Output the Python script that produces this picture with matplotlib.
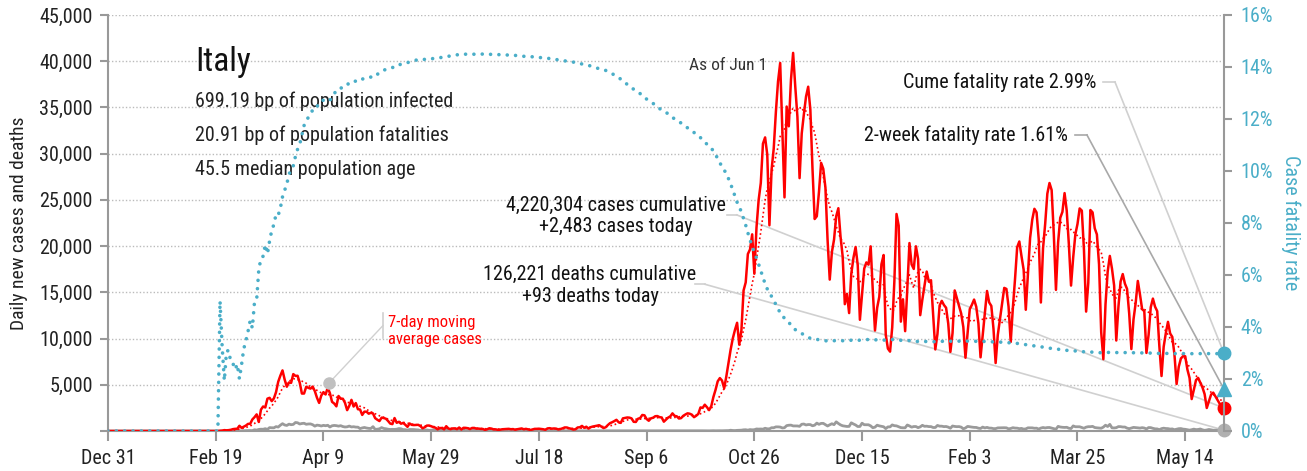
import numpy as np
import pandas as pd
import matplotlib
matplotlib.use("Agg")
import matplotlib.pyplot as plt
import matplotlib.dates as mdates
from matplotlib.ticker import FuncFormatter

plt.rcParams['font.family'] = ['Roboto Condensed', 'DejaVu Sans']

# daily new cases, starting Dec 31 2019
cases_2020 = [
    0,  # Dec 31
    0, 0, 0, 0, 0, 0, 0, 0, 0, 0, 0, 0, 0, 0, 0, 0, 0, 0, 0, 0, 0, 0, 0, 0, 0, 0, 0, 0, 0, 0, 2,  # Jan
    0, 0, 0, 0, 0, 0, 1, 0, 0, 0, 0, 0, 0, 0, 0, 0, 0, 0, 0, 0,
    17, 42, 93, 74, 93, 131, 202, 233, 240,  # Feb
    566, 342, 466, 587, 769, 778, 1247, 1492, 1797, 977, 2313, 2651, 2547, 3497, 3590, 3233,
    3526, 4207, 5322, 5986, 6557, 5560, 4789, 5249, 5210, 6153, 5959, 5974, 5217, 4050, 4053,  # Mar
    4782, 4668, 4585, 4805, 4316, 3599, 3039, 3836, 4204, 3951, 4694, 4092, 3153, 2972, 2667,
    3786, 3493, 3491, 3047, 2256, 2729, 3370, 2646, 3021, 2357, 2324, 1739, 2091, 2086, 1872,  # Apr
    1965, 1900, 1389, 1221, 1075, 1444, 1401, 1327, 1083, 802, 744, 1402, 888, 992, 789, 875,
    675, 451, 813, 665, 642, 652, 669, 531, 300, 397, 584, 593, 516, 416, 355,  # May
    178, 318, 321, 177, 518, 270, 197, 280, 283, 202, 379, 163, 346, 338, 301,
    210, 329, 333, 251, 262, 224, 218, 122, 190, 296, 259, 175, 174, 126, 142,  # Jun
    187, 201, 223, 235, 192, 208, 138, 193, 229, 276, 188, 234, 169, 114, 162, 230,
    233, 249, 219, 190, 129, 280, 306, 252, 275, 255, 170, 212, 289, 386, 379,  # Jul
    295, 239, 159, 190, 384, 402, 552, 347, 463, 259, 412, 481, 523, 574, 629, 479,
    320, 403, 642, 845, 947, 1071, 1210, 953, 878, 1367, 1411, 1462, 1444, 1365, 996,  # Aug
    978, 1326, 1397, 1733, 1695, 1297, 1108, 1370, 1434, 1597, 1616, 1501, 1458, 1008, 1229,
    1452, 1585, 1907, 1638, 1587, 1350, 1392, 1640, 1786, 1912, 1869, 1766, 1494, 1648, 1851,  # Sep
    2548, 2499, 2844, 2578, 2257, 2677, 3678, 4458, 5372, 5724, 5456, 4619, 5901, 7332, 8804, 10010,
    10925, 11705, 9338, 10874, 15199, 16079, 19143, 19644, 21273, 17012, 21994, 24991, 26831, 31084, 31758,  # Oct
    29907, 22253, 28244, 30550, 34505, 37809, 39811, 32616, 25271, 35098, 32961, 37978, 40902, 37255, 33979,
    27354, 32191, 34283, 36176, 37242, 34767, 28337, 22930, 23232, 25853, 29003, 28352, 26323, 20648, 16377,  # Nov
    19350, 20709, 23225, 24099, 21052, 18887, 13720, 14842, 12756, 16999, 18727, 19903, 17938, 12030, 14844, 17572,
    18236, 17992, 19974, 15104, 10872, 13318, 14522, 18040, 19037, 10407, 8913, 8585, 11212, 16202, 23477,  # Dec
]
cases_2021 = [
    22211, 11831, 14245, 10800, 15378, 20331, 18020, 17533, 19978, 18627, 12532, 14242, 15774, 17246, 16146, 16310,
    12545, 8824, 10497, 13571, 14078, 13633, 13331, 11629, 8561, 10593, 15204, 14372, 13574, 12715, 11252,  # Jan
    7925, 10630, 13189, 13659, 14218, 13442, 11641, 7970, 10404, 12956, 15146, 13908, 13532, 11068,
    7351, 10386, 12074, 13762, 15479, 15370, 13452, 9630, 13314, 16424, 19886, 20499, 18916, 17455,  # Feb
    13114, 17083, 20884, 22865, 24036, 23641, 20765, 13902, 19749, 22409, 25673, 26824, 26062, 21315, 15267, 20396,
    23059, 23704, 25735, 23832, 20159, 15732, 18765, 21267, 22393, 24076, 23839, 19611, 12916, 16017, 23904,  # Mar
    23649, 21932, 21261, 18025, 10680, 7767, 13708, 17221, 18938, 17567, 15746, 9789, 13447, 16168, 16974,
    15943, 15370, 12694, 8864, 12074, 13844, 16232, 14761, 13176, 12965, 8444, 10404, 13385, 14320, 13446,  # Apr
    12965, 9148, 5948, 9116, 10585, 11807, 10554, 10176, 8292, 5080, 6946, 7852, 8085, 8085, 6659, 5753,
    3455, 4452, 5506, 5741, 5218, 4717, 3995, 2490, 3224, 3937, 4147, 3738, 3351, 2949, 1820,  # May
    2483,  # Jun 1
]

# daily deaths, same dates
deaths_2020 = [
    0,  # Dec 31
    0, 0, 0, 0, 0, 0, 0, 0, 0, 0, 0, 0, 0, 0, 0, 0, 0, 0, 0, 0, 0, 0, 0, 0, 0, 0, 0, 0, 0, 0, 0,  # Jan
    0, 0, 0, 0, 0, 0, 0, 0, 0, 0, 0, 0, 0, 0, 0, 0, 0, 0, 0, 0,
    1, 1, 1, 4, 3, 2, 5, 4, 8,  # Feb
    5, 18, 27, 28, 41, 49, 36, 133, 97, 168, 196, 189, 250, 175, 368, 349,
    345, 475, 427, 627, 793, 651, 601, 743, 683, 712, 919, 889, 756, 812, 837,  # Mar
    727, 760, 766, 681, 525, 636, 604, 542, 610, 570, 619, 431, 566, 602, 578,
    525, 575, 482, 433, 454, 534, 437, 464, 420, 415, 260, 333, 382, 323, 285,  # Apr
    269, 474, 174, 195, 236, 369, 274, 243, 194, 165, 179, 172, 195, 262, 242, 153,
    145, 99, 162, 161, 156, 130, 119, 50, 92, 78, 117, 70, 87, 111, 75,  # May
    60, 55, 71, 88, 85, 72, 53, 65, 79, 71, 53, 56, 78, 44, 26,
    34, 43, 66, 47, 49, 24, 23, 18, 30, 30, 30, 8, 22, 6, 23,  # Jun
    21, 30, 15, 21, 7, 8, 30, 15, 12, 12, 7, 9, 13, 17, 13, 20,
    11, 13, 9, 3, 13, 15, 9, 10, 5, 4, 5, 11, 11, 9, 3,  # Jul
    12, 5, 8, 6, 10, 10, 3, 13, 3, 4, 6, 10, 6, 3, 4, 4,
    7, 5, 7, 6, 9, 3, 7, 4, 4, 13, 5, 9, 1, 4, 6,  # Aug
    6, 6, 10, 11, 7, 14, 10, 10, 10, 10, 10, 9, 7, 14, 9,
    10, 13, 10, 24, 15, 14, 20, 17, 20, 20, 17, 15, 17, 24, 19,  # Sep
    23, 24, 27, 18, 16, 28, 31, 22, 28, 29, 26, 39, 41, 43, 83, 55,
    47, 69, 73, 89, 127, 136, 91, 151, 128, 141, 221, 205, 217, 199, 297,  # Oct
    236, 233, 353, 352, 445, 446, 425, 331, 356, 580, 623, 636, 550, 544, 546,
    504, 731, 753, 653, 699, 692, 562, 630, 853, 722, 822, 827, 686, 541, 672,  # Nov
    785, 684, 993, 814, 662, 564, 528, 491, 499, 887, 761, 649, 484, 491, 846, 680,
    683, 674, 553, 352, 415, 628, 553, 505, 459, 261, 445, 445, 659, 575, 555,  # Dec
]
deaths_2021 = [
    462, 364, 347, 348, 649, 548, 414, 483, 483, 361, 448, 616, 507, 522, 477, 475,
    377, 377, 603, 524, 521, 472, 488, 420, 299, 541, 492, 467, 477, 421, 237,  # Jan
    329, 499, 456, 421, 391, 385, 307, 274, 422, 336, 391, 316, 311, 258,
    258, 336, 347, 347, 353, 343, 232, 274, 356, 318, 308, 253, 280, 205,  # Feb
    229, 343, 347, 339, 297, 307, 207, 318, 376, 332, 373, 380, 317, 264, 190, 502,
    431, 401, 386, 401, 300, 264, 551, 460, 460, 457, 380, 297, 417, 467, 467,  # Mar
    501, 376, 344, 326, 300, 421, 627, 487, 718, 344, 331, 360, 476, 469, 429,
    429, 310, 251, 316, 390, 360, 342, 315, 360, 322, 217, 373, 364, 288, 234,  # Apr
    226, 144, 256, 305, 267, 258, 207, 224, 139, 198, 251, 262, 201, 182, 136, 93,
    140, 201, 149, 164, 218, 126, 72, 110, 166, 121, 86, 93, 83, 44, 67,  # May
    93,  # Jun 1
]

stats_lines = ["699.19 bp of population infected",
               "20.91 bp of population fatalities",
               "45.5 median population age"]
total_cases = 4220304
total_deaths = 126221
cume_rate = 2.99
two_week_rate = 1.61

RED = "#ff0000"
BLUE = "#4aaec8"
GRAY = "#9a9a9a"

cases = np.array(cases_2020 + cases_2021, dtype=float)
deaths = np.array(deaths_2020 + deaths_2021, dtype=float)
dates = pd.date_range("2019-12-31", periods=len(cases), freq="D")
ma7 = pd.Series(cases).rolling(7, min_periods=1).mean().values
cum_c = np.cumsum(cases)
cum_d = np.cumsum(deaths)
cfr = np.where(cum_c > 0, cum_d / np.maximum(cum_c, 1) * 100, 0)

fig = plt.figure(figsize=(13.07, 4.71), dpi=100)
ax = fig.add_axes([108 / 1307, 1 - 431 / 471, (1224 - 108) / 1307, 416 / 471])
ax2 = ax.twinx()

ax.set_xlim(dates[0], dates[-1])
ax.set_ylim(0, 45000)
ax2.set_ylim(0, 16)

for y in range(5000, 45001, 5000):
    ax.axhline(y, color="#bbbbbb", lw=1, ls=(0, (1, 1.5)), zorder=0)

def day(n):
    return dates[0] + pd.Timedelta(days=n)

# annotation connectors
lc1 = "#d0d0d0"
lc2 = "#a8a8a8"
ax.plot([day(461.8), day(467.4)], [37750, 37750], color=lc1, lw=1.2)
ax.plot([day(467.4), dates[-1]], [37750, cume_rate / 16 * 45000], color=lc1, lw=1.2)
ax.plot([day(448.8), day(454.4)], [32020, 32020], color=lc2, lw=1.2)
ax.plot([day(454.4), dates[-1]], [32020, two_week_rate / 16 * 45000], color=lc2, lw=1.2)
ax.plot([day(287.3), day(291.9)], [23370, 23370], color=lc1, lw=1.2)
ax.plot([day(291.9), dates[-1]], [23370, cases[-1]], color=lc1, lw=1.2)
ax.plot([day(272.4), day(277.1)], [15870, 15870], color=lc1, lw=1.2)
ax.plot([day(277.1), dates[-1]], [15870, deaths[-1]], color=lc1, lw=1.2)
ax.plot([day(127.6), day(127.6)], [12760, 10060], color=lc1, lw=1.2)
ax.plot([day(127.6), day(102.6)], [11400, 5190], color=lc1, lw=1.0)
ax.plot([day(102.6)], [5190], "o", color="#c0c0c0", ms=8, zorder=6)

ax.plot(dates, deaths, color=GRAY, lw=2, zorder=3)
ax.plot(dates, ma7, color=RED, lw=1.2, ls=(0, (1, 1.6)), zorder=4)
ax.plot(dates, cases, color=RED, lw=1.8, zorder=5)
ax.plot([dates[-1]], [cases[-1]], "o", color=RED, ms=9, clip_on=False, zorder=7)
ax.plot([dates[-1]], [deaths[-1]], "o", color="#b0b0b0", ms=9, clip_on=False, zorder=7)

ax2.plot(dates, cfr, color=BLUE, lw=2.6, ls=(0, (0.01, 2.3)),
         dash_capstyle="round", zorder=2)
ax2.plot([dates[-1]], [cume_rate], "o", color=BLUE, ms=9, clip_on=False, zorder=8)
ax2.plot([dates[-1]], [two_week_rate], "^", color=BLUE, ms=10, clip_on=False, zorder=8)

# axes styling
ticks = [day(50 * i) for i in range(11)]
ax.set_xticks(ticks)
ax.xaxis.set_major_formatter(mdates.DateFormatter("%b %-d"))
ax.set_yticks(range(0, 45001, 5000))
ax.yaxis.set_major_formatter(FuncFormatter(lambda v, p: "" if v == 0 else f"{int(v):,}"))
ax2.set_yticks(range(0, 17, 2))
ax2.yaxis.set_major_formatter(FuncFormatter(lambda v, p: f"{int(v)}%"))

for a in (ax, ax2):
    a.spines["top"].set_visible(False)
    for s in ("left", "right", "bottom"):
        a.spines[s].set_color("#999999")
        a.spines[s].set_linewidth(1.5)
ax.spines["right"].set_visible(False)
ax2.spines["left"].set_visible(False)
ax2.spines["bottom"].set_visible(False)

ax.tick_params(axis="x", colors="#999999", labelcolor="#222222", labelsize=14.5,
               length=7, width=1.5, pad=6)
ax.tick_params(axis="y", colors="#999999", labelcolor="#222222", labelsize=14.5,
               length=6, width=1.5, pad=5)
ax2.tick_params(axis="y", colors="#999999", labelcolor=BLUE, labelsize=14.5,
                length=6, width=1.5, pad=6)
ax.set_ylabel("Daily new cases and deaths", fontsize=14, color="#222222", labelpad=8)
ax2.set_ylabel("Case fatality rate", fontsize=14.5, color=BLUE, rotation=270, labelpad=20)

# texts
ax.text(day(40.4), 39900, "Italy", fontsize=24, va="center", ha="left", color="#111111")
for i, line in enumerate(stats_lines):
    ax.text(day(40.4), 35700 - i * 3680, line, fontsize=14.5, va="center", ha="left",
            color="#222222")
ax.text(day(305.9), 39590, "As of Jun 1", fontsize=12.5, va="center", ha="right", color="#333333")
ax.text(day(458.6), 37750, f"Cume fatality rate {cume_rate:.2f}%", fontsize=14.5,
        va="center", ha="right", color="#111111")
ax.text(day(445.6), 32020, f"2-week fatality rate {two_week_rate:.2f}%", fontsize=14.5,
        va="center", ha="right", color="#111111")
ax.text(day(235.8), 23260, f"{total_cases:,} cases cumulative\n+{int(cases[-1]):,} cases today",
        fontsize=14.5, va="center", ha="center", multialignment="center", linespacing=1.2,
        color="#111111")
ax.text(day(223.7), 15790, f"{total_deaths:,} deaths cumulative\n+{int(deaths[-1]):,} deaths today",
        fontsize=14.5, va="center", ha="center", multialignment="center", linespacing=1.2,
        color="#111111")
ax.text(day(130), 10820, "7-day moving\naverage cases", fontsize=12, va="center",
        ha="left", color=RED, linespacing=1.15)

fig.savefig("out.png", dpi=100)
